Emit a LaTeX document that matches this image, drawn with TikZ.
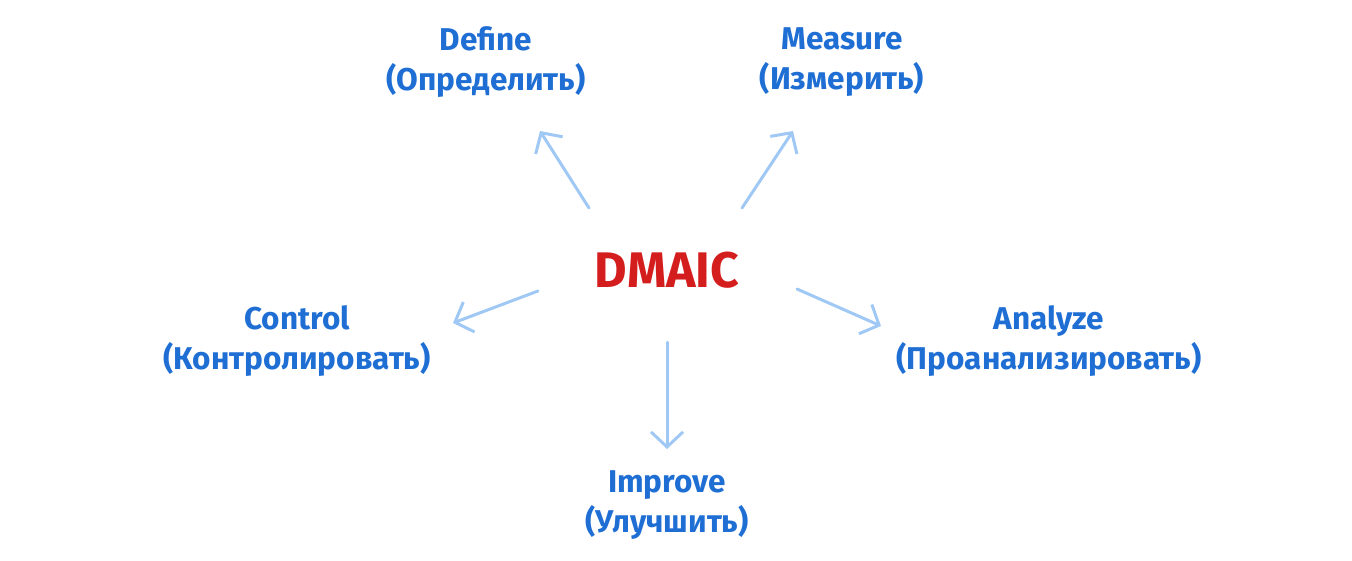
\documentclass[tikz,border=0pt]{standalone}
\usepackage{fontspec}
\setmainfont{Fira Sans}
\usetikzlibrary{arrows.meta}
\definecolor{stepblue}{RGB}{30,110,212}
\definecolor{corered}{RGB}{212,30,30}
\definecolor{arrowblue}{RGB}{160,200,245}
\tikzset{
    stepnode/.style = {align=center,text=stepblue,font=\fontsize{31.5}{40}\selectfont\bfseries},
    corenode/.style = {align=center,text=corered,font=\fontsize{50}{60}\selectfont\bfseries},
    edgel/.style = {-{Straight Barb[length=15pt,width=32pt]},line width=3pt,arrowblue,line cap=round},
}

\begin{document}
\begin{tikzpicture}[x=1pt,y=-1pt]
\useasboundingbox (0,0) rectangle (1352,560);
\node[corenode] at (667, 270) (dmaic) {DMAIC};
\node[stepnode] at (486, 62) (def) {Define\\(Определить)};
\node[stepnode] at (842, 62) (mea) {Measure\\(Измерить)};
\node[stepnode] at (1049, 341) (ana) {Analyze\\(Проанализировать)};
\node[stepnode] at (667, 505) (imp) {Improve\\(Улучшить)};
\node[stepnode] at (297, 341) (con) {Control\\(Контролировать)};
% arrow ends
\coordinate (d0) at (589, 208); \coordinate (d1) at (540, 131);
\coordinate (m0) at (742, 208); \coordinate (m1) at (793, 131);
\coordinate (a0) at (797, 289); \coordinate (a1) at (881, 326);
\coordinate (i0) at (667, 342); \coordinate (i1) at (667, 449);
\coordinate (c0) at (538, 291); \coordinate (c1) at (453, 323);
\draw[edgel] (d0) -- (d1);
\draw[edgel] (m0) -- (m1);
\draw[edgel] (a0) -- (a1);
\draw[edgel] (i0) -- (i1);
\draw[edgel] (c0) -- (c1);
\end{tikzpicture}
\end{document}
